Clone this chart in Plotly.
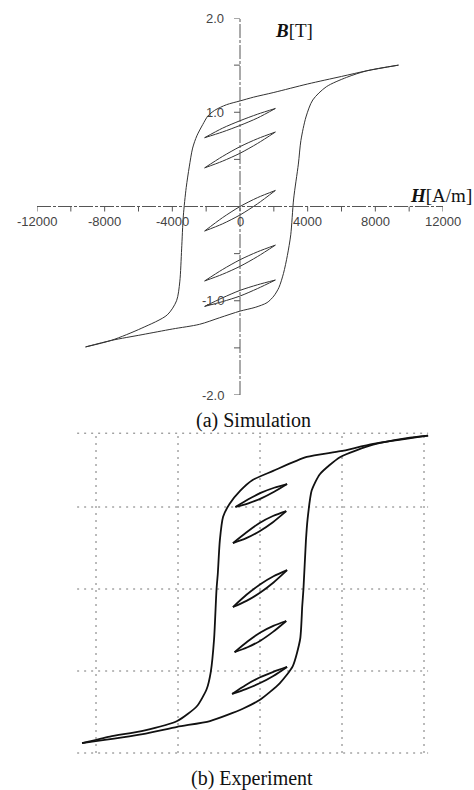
import plotly.graph_objects as go

# ---------------- (a) Simulation : major loop ----------------
sim_desc_H = [9370, 7500, 6000, 4000, 2000, 800, 0, -800, -1500, -1900, -2200, -2550, -2800, -3000, -3180, -3350, -3450, -3560, -3750, -4300, -5800, -7600, -9130]
sim_desc_B = [1.50, 1.44, 1.38, 1.30, 1.21, 1.16, 1.12, 1.08, 1.02, 0.96, 0.87, 0.75, 0.62, 0.42, 0.20, -0.10, -0.45, -0.80, -1.00, -1.15, -1.29, -1.42, -1.49]
sim_asc_H = [-9130, -7580, -5790, -4000, -2390, -1200, 0, 900, 1600, 2000, 2300, 2570, 2800, 3000, 3170, 3450, 3600, 3900, 4300, 5100, 6300, 7500, 9370]
sim_asc_B = [-1.49, -1.42, -1.36, -1.30, -1.25, -1.18, -1.11, -1.07, -1.02, -0.95, -0.86, -0.71, -0.52, -0.30, 0.08, 0.45, 0.70, 0.95, 1.13, 1.27, 1.37, 1.44, 1.50]

# minor loops (a): H points shared, upper (descending) and lower (ascending) branches
sim_minor_H = [-2090, -1045, 0, 1045, 2090]
sim_minor_upper = [
    [0.73, 0.83, 0.91, 0.98, 1.04],
    [0.41, 0.53, 0.635, 0.72, 0.79],
    [-0.26, -0.12, 0.0, 0.095, 0.17],
    [-0.79, -0.67, -0.565, -0.48, -0.41],
    [-1.06, -0.97, -0.89, -0.83, -0.78],
]
sim_minor_lower = [
    [0.73, 0.79, 0.86, 0.94, 1.04],
    [0.41, 0.48, 0.565, 0.67, 0.79],
    [-0.26, -0.185, -0.09, 0.03, 0.17],
    [-0.79, -0.72, -0.635, -0.53, -0.41],
    [-1.06, -1.01, -0.95, -0.87, -0.78],
]

sim_xticks = [-12000, -10000, -8000, -6000, -4000, -2000, 0, 2000, 4000, 6000, 8000, 10000, 12000]
sim_xlabels_vals = [-12000, -8000, -4000, 0, 4000, 8000, 12000]
sim_xlabels = ["-12000", "-8000", "-4000", "0", "4000", "8000", "12000"]
sim_yticks = [-2.0, -1.5, -1.0, -0.5, 0.5, 1.0, 1.5, 2.0]
sim_ylabels_vals = [2.0, 1.0, -1.0, -2.0]
sim_ylabels = ["2.0", "1.0", "-1.0", "-2.0"]

# ---------------- (b) Experiment (grid divisions) ----------------
exp_desc_H = [2.05, 1.38, 0.98, 0.57, 0.16, -0.09, -0.24, -0.37, -0.45, -0.49, -0.515, -0.53, -0.56, -0.60, -0.65, -0.77, -1.01, -1.43, -1.83, -2.17]
exp_desc_B = [1.87, 1.77, 1.68, 1.61, 1.44, 1.33, 1.20, 1.04, 0.88, 0.59, 0.18, 0.0, -0.61, -1.01, -1.22, -1.43, -1.61, -1.73, -1.80, -1.88]
exp_asc_H = [-2.17, -1.43, -1.01, -0.61, -0.21, 0.0, 0.24, 0.40, 0.49, 0.515, 0.53, 0.56, 0.58, 0.63, 0.73, 0.98, 1.38, 1.79, 2.05]
exp_asc_B = [-1.88, -1.77, -1.68, -1.61, -1.46, -1.35, -1.15, -0.94, -0.61, -0.21, 0.0, 0.59, 0.85, 1.20, 1.40, 1.61, 1.76, 1.84, 1.87]

exp_minor_H = [
    [-0.30, -0.1425, 0.015, 0.1725, 0.33],
    [-0.33, -0.1675, -0.005, 0.1575, 0.32],
    [-0.33, -0.165, 0.0, 0.165, 0.33],
    [-0.31, -0.1525, 0.005, 0.1625, 0.32],
    [-0.34, -0.1725, -0.005, 0.1625, 0.33],
]
exp_minor_upper = [
    [1.0, 1.095, 1.175, 1.235, 1.28],
    [0.56, 0.69, 0.805, 0.89, 0.95],
    [-0.22, -0.07, 0.055, 0.155, 0.23],
    [-0.77, -0.64, -0.53, -0.45, -0.39],
    [-1.28, -1.17, -1.08, -1.01, -0.95],
]
exp_minor_lower = [
    [1.0, 1.045, 1.105, 1.185, 1.28],
    [0.56, 0.62, 0.705, 0.815, 0.95],
    [-0.22, -0.145, -0.045, 0.08, 0.23],
    [-0.77, -0.71, -0.63, -0.52, -0.39],
    [-1.28, -1.22, -1.15, -1.06, -0.95],
]
exp_grid_H = [-2, -1, 0, 1, 2]
exp_grid_B = [-2, -1, 0, 1, 1.9]
exp_grid_H_span = [-2.23, 2.05]
exp_grid_B_span = [-2.0, 1.9]

fig = go.Figure()

sim_line = dict(color="#333333", width=1)
exp_line = dict(color="#111111", width=1.8)

fig.add_trace(go.Scatter(x=sim_desc_H, y=sim_desc_B, mode="lines", line=dict(shape="spline", smoothing=0.8, **sim_line), xaxis="x", yaxis="y"))
fig.add_trace(go.Scatter(x=sim_asc_H, y=sim_asc_B, mode="lines", line=dict(shape="spline", smoothing=0.8, **sim_line), xaxis="x", yaxis="y"))
for up, lo in zip(sim_minor_upper, sim_minor_lower):
    for br in (up, lo):
        fig.add_trace(go.Scatter(x=sim_minor_H, y=br, mode="lines", line=dict(shape="spline", smoothing=0.8, **sim_line), xaxis="x", yaxis="y"))

fig.add_trace(go.Scatter(x=exp_desc_H, y=exp_desc_B, mode="lines", line=dict(shape="spline", smoothing=0.6, **exp_line), xaxis="x2", yaxis="y2"))
fig.add_trace(go.Scatter(x=exp_asc_H, y=exp_asc_B, mode="lines", line=dict(shape="spline", smoothing=0.6, **exp_line), xaxis="x2", yaxis="y2"))
for hh, up, lo in zip(exp_minor_H, exp_minor_upper, exp_minor_lower):
    for br in (up, lo):
        fig.add_trace(go.Scatter(x=hh, y=br, mode="lines", line=dict(shape="spline", smoothing=0.8, **exp_line), xaxis="x2", yaxis="y2"))

shapes = []
axis_line = dict(color="#555555", width=1, dash="14px,2px,3px,2px")
shapes.append(dict(type="line", xref="x", yref="y", x0=sim_xticks[0], x1=sim_xticks[-1], y0=0, y1=0, line=axis_line))
shapes.append(dict(type="line", xref="x", yref="y", x0=0, x1=0, y0=-2.0, y1=2.0, line=axis_line))
for t in sim_xticks:
    shapes.append(dict(type="line", xref="x", yref="y", ysizemode="pixel", yanchor=0, x0=t, x1=t, y0=0, y1=-5, line=dict(color="#555555", width=1)))
for t in sim_yticks:
    shapes.append(dict(type="line", xref="x", yref="y", xsizemode="pixel", xanchor=0, x0=-6, x1=0, y0=t, y1=t, line=dict(color="#555555", width=1)))

grid_line = dict(color="#777777", width=1, dash="2px,5px")
for g in exp_grid_H:
    shapes.append(dict(type="line", xref="x2", yref="y2", x0=g, x1=g, y0=exp_grid_B_span[0], y1=exp_grid_B_span[1], line=grid_line, layer="below"))
for g in exp_grid_B:
    shapes.append(dict(type="line", xref="x2", yref="y2", x0=exp_grid_H_span[0], x1=exp_grid_H_span[1], y0=g, y1=g, line=grid_line, layer="below"))

annotations = []
tick_font = dict(family="Liberation Sans, Arial, sans-serif", size=13, color="#444444")
for v, s in zip(sim_xlabels_vals, sim_xlabels):
    annotations.append(dict(x=v, y=0, xref="x", yref="y", text=s, showarrow=False, yanchor="top", xanchor="center", yshift=-5, font=tick_font))
for v, s in zip(sim_ylabels_vals, sim_ylabels):
    annotations.append(dict(x=0, y=v, xref="x", yref="y", text=s, showarrow=False, xanchor="right", yanchor="middle", xshift=-14, font=tick_font))

serif = "Liberation Serif, Times New Roman, serif"
annotations.append(dict(x=273 / 474, y=1 - 31 / 790, xref="paper", yref="paper", text="<b><i>B</i></b>[T]", showarrow=False, xanchor="left", yanchor="middle", font=dict(family=serif, size=19, color="#111111")))
annotations.append(dict(x=1.0, y=1 - 195 / 790, xref="paper", yref="paper", text="<b><i>H</i></b>[A/m]", showarrow=False, xanchor="right", yanchor="middle", font=dict(family=serif, size=19, color="#111111")))
annotations.append(dict(x=253 / 474, y=1 - 421 / 790, xref="paper", yref="paper", text="(a) Simulation", showarrow=False, xanchor="center", yanchor="middle", font=dict(family=serif, size=20, color="#111111")))
annotations.append(dict(x=252 / 474, y=1 - 778 / 790, xref="paper", yref="paper", text="(b) Experiment", showarrow=False, xanchor="center", yanchor="middle", font=dict(family=serif, size=20, color="#111111")))

hidden = dict(visible=False, showgrid=False, zeroline=False, fixedrange=True)
fig.update_layout(
    width=474, height=790, autosize=False,
    margin=dict(l=0, r=0, t=0, b=0),
    paper_bgcolor="white", plot_bgcolor="white",
    showlegend=False,
    xaxis=dict(domain=[37 / 474, 443 / 474], range=[-12000, 12000], **hidden),
    yaxis=dict(domain=[1 - 395 / 790, 1 - 18 / 790], range=[-2.0, 2.0], **hidden),
    xaxis2=dict(domain=[55 / 474, 465 / 474], range=[-2.5, 2.5], anchor="y2", **hidden),
    yaxis2=dict(domain=[1 - 777.6 / 790, 1 - 400.4 / 790], range=[-2.3, 2.3], anchor="x2", **hidden),
    shapes=shapes,
    annotations=annotations,
)

fig.write_html("out.html", config={"displayModeBar": False, "staticPlot": True},
               post_script="document.body.style.margin='0';")
